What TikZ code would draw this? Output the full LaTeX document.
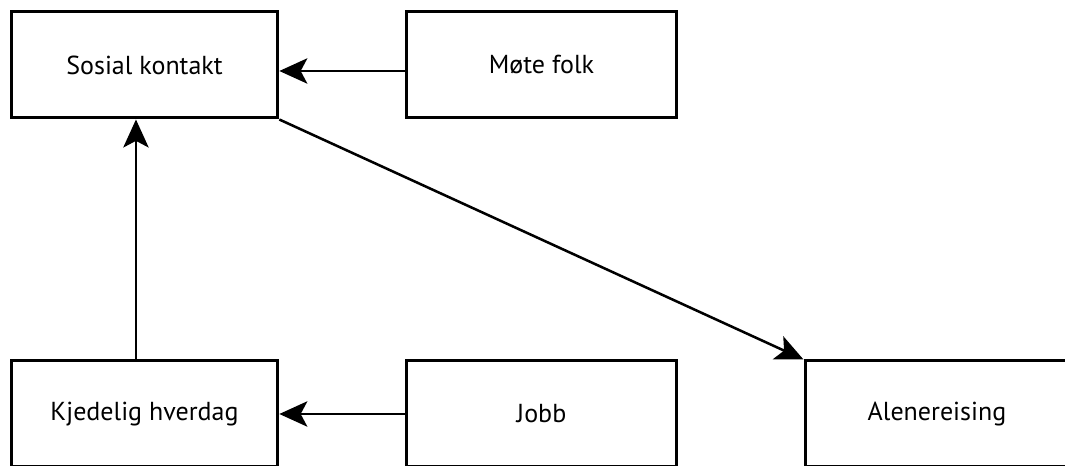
\documentclass[tikz,border=0pt]{standalone}
\usepackage{fontspec}
\setmainfont{PT Sans}
\usetikzlibrary{arrows.meta}

\tikzset{every picture/.style={line width=0.75pt}}
\tikzset{
  factor/.style={draw, line width=2.25pt, minimum width=200pt, minimum height=79.5pt, inner sep=0pt, font=\fontsize{19.5}{22}\selectfont},
  link/.style={line width=1.9pt, -{Stealth[length=21pt, width=19pt, inset=5pt]}}
}

\begin{document}
\begin{tikzpicture}[x=0.75pt,y=0.75pt,yscale=-1,xscale=1]
	\useasboundingbox (0,0) rectangle (1065,466);

	% Text Node
	\node [factor] (sosial) at (144.5,65) {Sosial kontakt};
	% Text Node
	\node [factor, minimum width=202pt] (mote) at (541.5,65) {Møte folk};
	% Text Node
	\node [factor] (kjedelig) at (144.5,414) {Kjedelig hverdag};
	% Text Node
	\node [factor, minimum width=202pt] (jobb) at (541.5,414) {Jobb};
	% Text Node
	\node [factor, minimum width=198pt] (alene) at (937,414) {Alenereising};

	%Straight Lines
	\draw [link] ([yshift=4.5pt]mote.west) -- ([yshift=4.5pt]sosial.east);
	%Straight Lines
	\draw [link] (jobb.west) -- (kjedelig.east);
	%Straight Lines
	\draw [link] ([xshift=-6.4pt]kjedelig.north) -- ([xshift=-6.4pt]sosial.south);
	%Straight Lines
	\draw [link] (sosial.south east) -- (alene.north west);

\end{tikzpicture}
\end{document}
